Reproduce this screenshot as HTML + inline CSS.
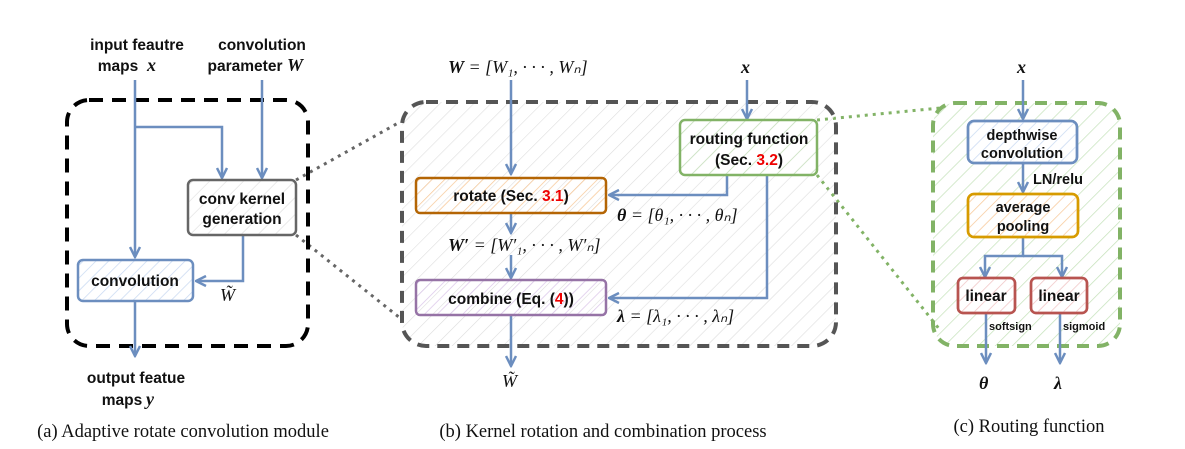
<!DOCTYPE html>
<html><head><meta charset="utf-8"><style>
body{margin:0;background:#fff}
svg{display:block}
.s{font-family:"Liberation Sans",sans-serif;font-weight:bold;font-size:15.5px;fill:#111}
.m{font-family:"Liberation Serif",serif;font-style:italic;font-size:18px;fill:#111}
.cap{font-family:"Liberation Serif",serif;font-size:18.5px;fill:#111}
</style></head><body>
<svg width="1185" height="449" viewBox="0 0 1185 449" xmlns="http://www.w3.org/2000/svg">
<defs>
<pattern id="hg" width="12" height="12" patternUnits="userSpaceOnUse" patternTransform="rotate(45)"><line x1="0" y1="0" x2="0" y2="12" stroke="#ddd" stroke-width="1.2"/></pattern>
<pattern id="hgr" width="12" height="12" patternUnits="userSpaceOnUse" patternTransform="rotate(45)"><line x1="0" y1="0" x2="0" y2="12" stroke="#c8e3bd" stroke-width="1.5"/></pattern>
<pattern id="hb" width="9" height="9" patternUnits="userSpaceOnUse" patternTransform="rotate(45)"><line x1="0" y1="0" x2="0" y2="9" stroke="#c9daf2" stroke-width="1.5"/></pattern>
<pattern id="ho" width="9" height="9" patternUnits="userSpaceOnUse" patternTransform="rotate(45)"><line x1="0" y1="0" x2="0" y2="9" stroke="#f7c99a" stroke-width="1.5"/></pattern>
<pattern id="hp" width="9" height="9" patternUnits="userSpaceOnUse" patternTransform="rotate(45)"><line x1="0" y1="0" x2="0" y2="9" stroke="#dcc8ea" stroke-width="1.5"/></pattern>
<pattern id="hr" width="9" height="9" patternUnits="userSpaceOnUse" patternTransform="rotate(45)"><line x1="0" y1="0" x2="0" y2="9" stroke="#f0c4c4" stroke-width="1.5"/></pattern>
<marker id="ar" viewBox="0 0 10 10" refX="9" refY="5" markerWidth="5" markerHeight="5" orient="auto"><path d="M1,1 L9,5 L1,9" fill="none" stroke="#6c8ebf" stroke-width="2"/></marker>
</defs>

<g stroke="#666" stroke-width="3" stroke-dasharray="3,5" fill="none">
<line x1="296" y1="180" x2="400" y2="122"/>
<line x1="296" y1="235" x2="400" y2="318"/>
</g>
<g stroke="#82b366" stroke-width="3" stroke-dasharray="3,5" fill="none">
<line x1="817" y1="120" x2="940" y2="108"/>
<line x1="817" y1="175" x2="940" y2="330"/>
</g>

<!-- Panel a -->
<rect x="67" y="100" width="241" height="246" rx="22" fill="none" stroke="#000" stroke-width="4" stroke-dasharray="14,9"/>
<text class="s" x="137" y="50" text-anchor="middle">input feautre</text>
<text class="s" x="118" y="71" text-anchor="middle">maps</text><text class="m" x="147" y="71" font-weight="bold">x</text>
<text class="s" x="262" y="50" text-anchor="middle">convolution</text>
<text class="s" x="245" y="71" text-anchor="middle">parameter</text><text class="m" x="287" y="71" font-weight="bold">W</text>
<g stroke="#6c8ebf" stroke-width="2.5" fill="none">
<line x1="135" y1="80" x2="135" y2="257" marker-end="url(#ar)"/>
<polyline points="135,127 222,127 222,178" marker-end="url(#ar)"/>
<line x1="262" y1="80" x2="262" y2="178" marker-end="url(#ar)"/>
<polyline points="243,235 243,281 196,281" marker-end="url(#ar)"/>
<line x1="135" y1="300" x2="135" y2="356" marker-end="url(#ar)"/>
</g>
<rect x="188" y="180" width="108" height="55" rx="5" fill="url(#hg)" stroke="#666" stroke-width="2.5"/>
<text class="s" x="242" y="204" text-anchor="middle" fill="#333">conv kernel</text>
<text class="s" x="242" y="224" text-anchor="middle" fill="#333">generation</text>
<rect x="78" y="260" width="115" height="41" rx="5" fill="url(#hb)" stroke="#6c8ebf" stroke-width="2.5"/>
<text class="s" x="135" y="286" text-anchor="middle">convolution</text>
<text class="m" x="220" y="301">W̃</text>
<text class="s" x="136" y="383" text-anchor="middle">output featue</text>
<text class="s" x="122" y="405" text-anchor="middle">maps</text><text class="m" x="146" y="405" font-weight="bold">y</text>
<text class="cap" x="183" y="437" text-anchor="middle">(a) Adaptive rotate convolution module</text>

<!-- Panel b -->
<rect x="402" y="102" width="434" height="244" rx="24" fill="url(#hg)" stroke="#555" stroke-width="4" stroke-dasharray="12,8"/>
<text class="m" x="448" y="73"><tspan font-weight="bold">W</tspan> = [W₁, · · · , Wₙ]</text>
<text class="m" x="741" y="73" font-weight="bold">x</text>
<g stroke="#6c8ebf" stroke-width="2.5" fill="none">
<line x1="511" y1="80" x2="511" y2="174" marker-end="url(#ar)"/>
<line x1="747" y1="80" x2="747" y2="119" marker-end="url(#ar)"/>
<polyline points="727,175 727,195 609,195" marker-end="url(#ar)"/>
<line x1="511" y1="213" x2="511" y2="233" marker-end="url(#ar)"/>
<line x1="511" y1="255" x2="511" y2="278" marker-end="url(#ar)"/>
<polyline points="767,175 767,298 609,298" marker-end="url(#ar)"/>
<line x1="511" y1="315" x2="511" y2="366" marker-end="url(#ar)"/>
</g>
<rect x="680" y="120" width="137" height="55" rx="5" fill="url(#hgr)" stroke="#82b366" stroke-width="2.5"/>
<text class="s" x="749" y="144" text-anchor="middle">routing function</text>
<text class="s" x="749" y="165" text-anchor="middle">(Sec. <tspan fill="#e00">3.2</tspan>)</text>
<rect x="416" y="178" width="190" height="35" rx="4" fill="url(#ho)" stroke="#b46504" stroke-width="2.5"/>
<text class="s" x="511" y="201" text-anchor="middle">rotate (Sec. <tspan fill="#e00">3.1</tspan>)</text>
<text class="m" x="617" y="221"><tspan font-weight="bold">θ</tspan> = [θ₁, · · · , θₙ]</text>
<text class="m" x="448" y="251"><tspan font-weight="bold">W′</tspan> = [W′₁, · · · , W′ₙ]</text>
<rect x="416" y="280" width="190" height="35" rx="4" fill="url(#hp)" stroke="#9673a6" stroke-width="2.5"/>
<text class="s" x="511" y="304" text-anchor="middle">combine (Eq. (<tspan fill="#e00">4</tspan>))</text>
<text class="m" x="617" y="322"><tspan font-weight="bold">λ</tspan> = [λ₁, · · · , λₙ]</text>
<text class="m" x="502" y="387">W̃</text>
<text class="cap" x="603" y="437" text-anchor="middle">(b) Kernel rotation and combination process</text>

<!-- Panel c -->
<rect x="933" y="103" width="187" height="243" rx="22" fill="url(#hgr)" stroke="#82b366" stroke-width="4" stroke-dasharray="12,8"/>
<text class="m" x="1017" y="73" font-weight="bold">x</text>
<g stroke="#6c8ebf" stroke-width="2.5" fill="none">
<line x1="1023" y1="80" x2="1023" y2="119" marker-end="url(#ar)"/>
<line x1="1023" y1="163" x2="1023" y2="192" marker-end="url(#ar)"/>
<polyline points="1023,237 1023,256 985,256 985,277" marker-end="url(#ar)"/>
<polyline points="1023,256 1062,256 1062,277" marker-end="url(#ar)"/>
<line x1="986" y1="313" x2="986" y2="363" marker-end="url(#ar)"/>
<line x1="1060" y1="313" x2="1060" y2="363" marker-end="url(#ar)"/>
</g>
<rect x="968" y="121" width="109" height="42" rx="6" fill="#fff" stroke="#6c8ebf" stroke-width="2.5"/>
<rect x="968" y="121" width="109" height="42" rx="6" fill="url(#hb)" stroke="#6c8ebf" stroke-width="2.5"/>
<text class="s" x="1022" y="140" text-anchor="middle" style="font-size:14.5px">depthwise</text>
<text class="s" x="1022" y="158" text-anchor="middle" style="font-size:14.5px">convolution</text>
<text class="s" x="1033" y="184" style="font-size:14.5px">LN/relu</text>
<rect x="968" y="194" width="110" height="43" rx="6" fill="#fff" stroke="#d79b00" stroke-width="2.5"/>
<rect x="968" y="194" width="110" height="43" rx="6" fill="url(#ho)" stroke="#d79b00" stroke-width="2.5"/>
<text class="s" x="1023" y="212" text-anchor="middle" style="font-size:14.5px">average</text>
<text class="s" x="1023" y="231" text-anchor="middle" style="font-size:14.5px">pooling</text>
<rect x="958" y="278" width="57" height="35" rx="5" fill="#fff" stroke="#b85450" stroke-width="2.5"/>
<rect x="958" y="278" width="57" height="35" rx="5" fill="url(#hr)" stroke="#b85450" stroke-width="2.5"/>
<text class="s" x="986" y="301" text-anchor="middle">linear</text>
<rect x="1031" y="278" width="56" height="35" rx="5" fill="#fff" stroke="#b85450" stroke-width="2.5"/>
<rect x="1031" y="278" width="56" height="35" rx="5" fill="url(#hr)" stroke="#b85450" stroke-width="2.5"/>
<text class="s" x="1059" y="301" text-anchor="middle">linear</text>
<text class="s" x="989" y="330" style="font-size:11px">softsign</text>
<text class="s" x="1063" y="330" style="font-size:11px">sigmoid</text>
<text class="m" x="979" y="389" font-weight="bold">θ</text>
<text class="m" x="1054" y="389" font-weight="bold">λ</text>
<text class="cap" x="1029" y="432" text-anchor="middle">(c) Routing function</text>
</svg>
</body></html>
